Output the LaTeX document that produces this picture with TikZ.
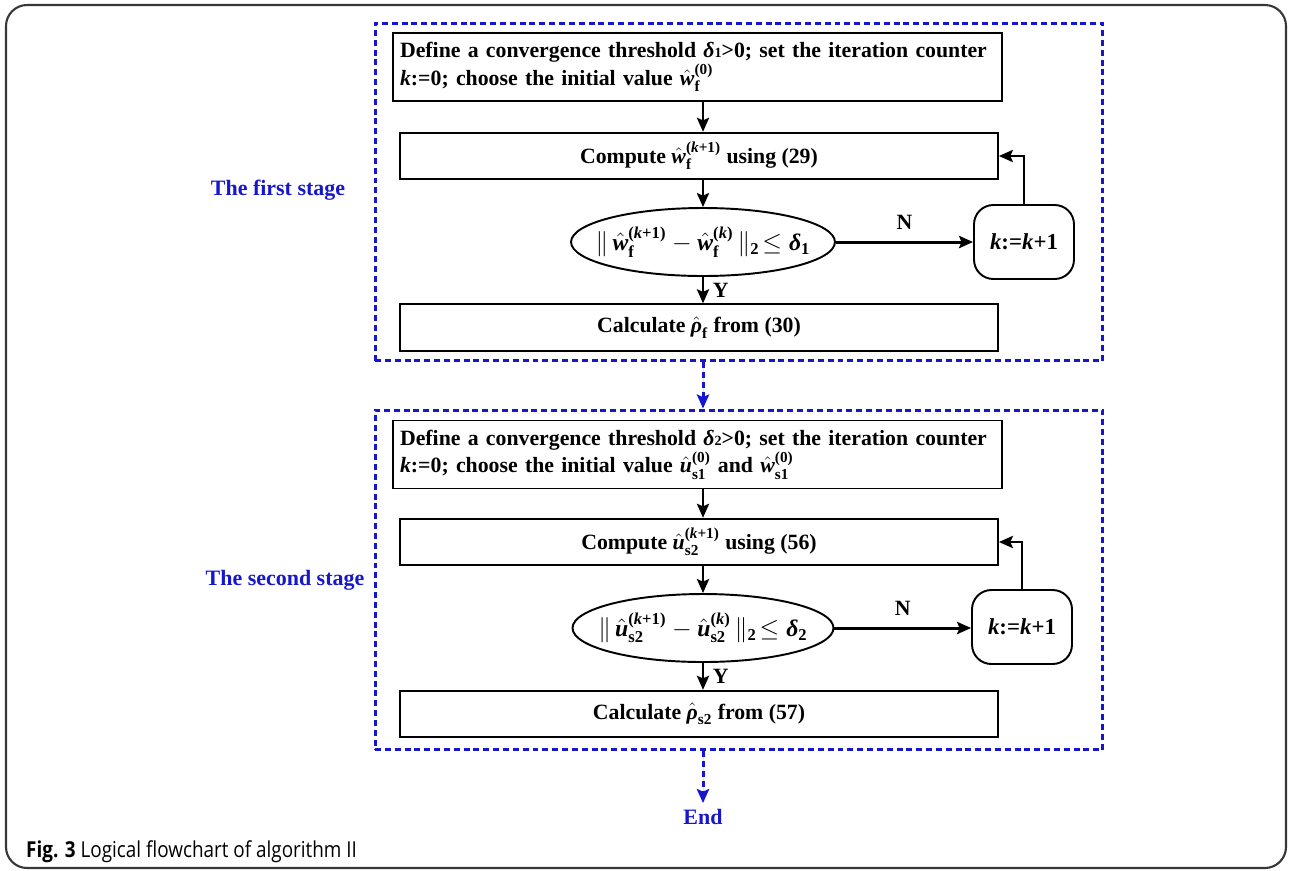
\documentclass[tikz,border=0pt]{standalone}
\usepackage{amsmath}
\usepackage{fontspec}
\setmainfont{Liberation Serif}
\newfontfamily\capfont[FakeStretch=0.86]{Open Sans}
\usetikzlibrary{arrows.meta, positioning, shapes.geometric, calc}
\definecolor{stageblue}{RGB}{22,22,205}
\definecolor{framegray}{RGB}{55,55,55}
\newcommand{\bi}[1]{\textbf{\textit{#1}}}
\newcommand{\boxfont}{\fontsize{12.4}{14}\selectfont\bfseries}
\tikzset{
  initbox/.style={draw, line width=1.1pt, minimum height=1.36cm, text width=11.9cm, inner xsep=4pt, font=\boxfont, align=left},
  procbox/.style={draw, line width=1.1pt, minimum height=0.93cm, minimum width=11.96cm, font=\boxfont, align=center},
  testbox/.style={ellipse, draw, line width=1.1pt, minimum width=5.24cm, minimum height=1.36cm, inner xsep=-8pt, inner ysep=0pt, font=\fontsize{13.5}{15}\selectfont\bfseries},
  incbox/.style={draw, rounded corners=11pt, line width=1.1pt, minimum width=2cm, minimum height=1.48cm, font=\fontsize{13}{15}\selectfont\bfseries},
  stageframe/.style={draw=stageblue, line width=1.7pt, dash pattern=on 3.4pt off 2.2pt, minimum width=14.56cm},
  stagelabel/.style={text=stageblue, font=\fontsize{12.5}{15}\selectfont\bfseries},
  flaglabel/.style={font=\boxfont, inner sep=2pt},
  arrow/.style={-{Stealth[length=8pt, width=7pt, inset=1.5pt]}, line width=1.1pt},
  noarrow/.style={-{Stealth[length=8pt, width=7pt, inset=1.5pt]}, line width=1.7pt},
  stagearrow/.style={-{Stealth[length=8pt, width=7pt, inset=1.5pt]}, draw=stageblue, fill=stageblue, line width=1.7pt, dash pattern=on 3.4pt off 2.2pt},
}

\begin{document}
\begin{tikzpicture}[x=0.02cm, y=-0.02cm]
  \useasboundingbox (0,0) rectangle (1290,870);
  \draw[framegray, line width=1.2pt, rounded corners=12pt] (6,5) rectangle (1286,868);

  % --- Stage 1 ---
  \node[stageframe, minimum height=6.76cm] (stage1) at (739,192) {};
  \node[stagelabel] (label1) at (278,190) {The first stage};
  \node[initbox] (def1) at (697.5,67) {Define a convergence threshold \bi{δ}{\footnotesize 1}>0; set the iteration counter\\
    \bi{k}:=0; choose the initial value $\hat{\bi{w}}_{\textbf{f}}^{\textbf{(0)}}$};
  \node[procbox] (comp1) at (699,156) {Compute $\hat{\bi{w}}_{\textbf{f}}^{\textbf{(\textit{k}+1)}}$ using (29)};
  \node[testbox] (test1) at (703,242) {$\|\,\hat{\bi{w}}_{\textbf{f}}^{\textbf{(\textit{k}+1)}} - \hat{\bi{w}}_{\textbf{f}}^{\textbf{(\textit{k})}}\,\|_{\textbf{2}}\!\le \bi{δ}_{\textbf{1}}$};
  \node[incbox] (kinc1) at (1024,242) {\bi{k}:=\bi{k}+1};
  \node[procbox] (calc1) at (699,327.5) {Calculate $\hat{\bi{ρ}}_{\textbf{f}}$ from (30)};

  % --- Stage 2 ---
  \node[stageframe, minimum height=6.8cm] (stage2) at (739,580) {};
  \node[stagelabel] (label2) at (285,580) {The second stage};
  \node[initbox] (def2) at (697.5,454.5) {Define a convergence threshold \bi{δ}{\footnotesize 2}>0; set the iteration counter\\
    \bi{k}:=0; choose the initial value $\hat{\bi{u}}_{\textbf{s1}}^{\textbf{(0)}}$ and $\hat{\bi{w}}_{\textbf{s1}}^{\textbf{(0)}}$};
  \node[procbox] (comp2) at (699,542) {Compute $\hat{\bi{u}}_{\textbf{s2}}^{\textbf{(\textit{k}+1)}}$ using (56)};
  \node[testbox, minimum width=5.22cm] (test2) at (703,628) {$\|\,\hat{\bi{u}}_{\textbf{s2}}^{\textbf{(\textit{k}+1)}} - \hat{\bi{u}}_{\textbf{s2}}^{\textbf{(\textit{k})}}\,\|_{\textbf{2}}\!\le \bi{δ}_{\textbf{2}}$};
  \node[incbox] (kinc2) at (1022,627) {\bi{k}:=\bi{k}+1};
  \node[procbox] (calc2) at (699,714) {Calculate $\hat{\bi{ρ}}_{\textbf{s2}}$ from (57)};

  \node[stagelabel] (finish) at (703,817) {End};
  \node[anchor=west, font=\capfont\fontsize{12.5}{14}\selectfont] (caption) at (20,852) {\textbf{Fig. 3} Logical flowchart of algorithm II};

  % --- Arrows ---
  \draw[arrow] (def1.south -| test1) -- (comp1.north -| test1);
  \draw[arrow] (comp1.south -| test1) -- (test1.north);
  \draw[noarrow] (test1.east) -- node[flaglabel, above=4pt] {N} (test1.east -| kinc1.west);
  \draw[arrow] (kinc1.north) |- (comp1.east);
  \draw[arrow] (test1.south) -- node[flaglabel, right=3pt] {Y} (test1.south |- calc1.north);
  \draw[stagearrow] (stage1.south -| test1) -- (stage2.north -| test1);
  \draw[arrow] (def2.south -| test2) -- (comp2.north -| test2);
  \draw[arrow] (comp2.south -| test2) -- (test2.north);
  \draw[noarrow] (test2.east) -- node[flaglabel, above=4pt] {N} (test2.east -| kinc2.west);
  \draw[arrow] (kinc2.north) |- (comp2.east);
  \draw[arrow] (test2.south) -- node[flaglabel, right=3pt] {Y} (test2.south |- calc2.north);
  \draw[stagearrow] (stage2.south -| test2) -- (finish.north);

\end{tikzpicture}
\end{document}
